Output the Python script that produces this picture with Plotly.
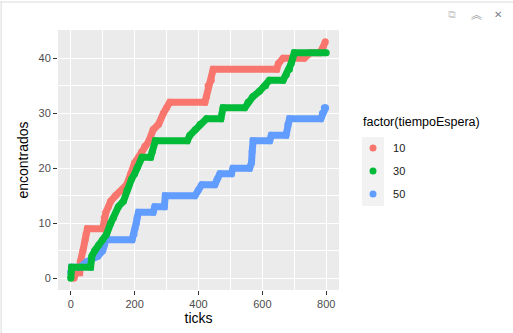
import plotly.graph_objects as go

# ---- data (vertices of each cumulative series) ----
ticks_10 = [10, 15, 28, 30, 38, 45, 48, 52, 100, 105, 110, 118, 125, 140, 160, 175, 188, 200, 212, 222,
            232, 245, 258, 275, 290, 300, 310, 420, 425, 430, 440, 446, 645, 650, 665, 731, 750, 780, 790, 797]
found_10 = [0, 1, 1, 3, 5, 7, 8, 9, 9, 11, 12, 13, 14, 15, 16, 17, 19, 21, 22, 23,
            24, 25, 27, 28, 30, 31, 32, 32, 33, 35, 36, 38, 38, 39, 40, 40, 41, 41, 42, 43]

ticks_30 = [0, 3, 62, 66, 75, 87, 100, 112, 125, 134, 149, 165, 176, 190, 200, 207, 223, 250, 255, 265,
            365, 373, 390, 405, 425, 470, 477, 545, 555, 570, 591, 610, 622, 665, 675, 685, 690, 695, 700, 800]
found_30 = [0, 2, 2, 4, 5, 6, 7, 8, 10, 11, 13, 14, 16, 18, 19, 20, 22, 22, 23, 25,
            25, 26, 27, 28, 29, 29, 31, 31, 32, 33, 34, 35, 36, 36, 37, 38, 39, 40, 41, 41]

ticks_50 = [0, 3, 30, 50, 85, 100, 105, 110, 192, 198, 201, 205, 208, 212, 258, 263, 293, 296, 389, 399,
            410, 451, 458, 467, 503, 508, 560, 566, 568, 571, 623, 628, 674, 680, 685, 783, 788, 794, 798]
found_50 = [1, 2, 2, 3, 4, 5, 6, 7, 7, 8, 9, 10, 11, 12, 12, 13, 13, 15, 15, 16,
            17, 17, 18, 19, 19, 20, 20, 21, 23, 25, 25, 26, 26, 28, 29, 29, 30, 31, 31]

series_names = ["10", "30", "50"]
series_colors = {"10": "#F8766D", "30": "#00BA38", "50": "#619CFF"}
x_tick_vals = [0, 200, 400, 600, 800]
y_tick_vals = [0, 10, 20, 30, 40]

data = {"10": (ticks_10, found_10), "30": (ticks_30, found_30), "50": (ticks_50, found_50)}

fig = go.Figure()
for name in ["10", "50", "30"]:
    xs, ys = data[name]
    fig.add_trace(go.Scatter(
        x=xs, y=ys, mode="lines+markers",
        line=dict(color=series_colors[name], width=7),
        marker=dict(color=series_colors[name], size=7),
        showlegend=False, hoverinfo="skip"))

for i, name in enumerate(series_names):
    fig.add_trace(go.Scatter(
        x=[None], y=[None], mode="markers", name=name,
        marker=dict(color=series_colors[name], size=7),
        legendgroup=name, legendrank=i))

PL, PR, PT, PB = 58.3, 339.0, 30.0, 290.0
W, H = 513, 333
def px(x):
    return (x - PL) / (PR - PL)
def py(y):
    return (PB - y) / (PB - PT)

fig.update_layout(
    width=W, height=H,
    margin=dict(l=PL, r=W - PR, t=PT, b=H - PB),
    paper_bgcolor="white",
    plot_bgcolor="#EBEBEB",
    font=dict(family="Liberation Sans, Arial, sans-serif", color="#000000"),
    showlegend=True,
    legend=dict(
        font=dict(size=11, color="#1A1A1A"),
        x=px(353), y=py(133.5), xanchor="left", yanchor="top",
        bgcolor="rgba(0,0,0,0)", tracegroupgap=4, itemwidth=30,
    ),
    shapes=[
        dict(type="rect", xref="paper", yref="paper",
             x0=px(362), x1=px(384), y0=py(137), y1=py(206),
             fillcolor="#F2F2F2", line=dict(width=0), layer="below"),
        dict(type="line", xref="paper", yref="paper",
             x0=px(0), x1=px(513), y0=py(2), y1=py(2),
             line=dict(color="#DADADA", width=1)),
        dict(type="line", xref="paper", yref="paper",
             x0=px(1.5), x1=px(1.5), y0=py(2), y1=py(333),
             line=dict(color="#DADADA", width=1)),
    ],
    annotations=[
        dict(text="factor(tiempoEspera)", xref="paper", yref="paper",
             x=px(361), y=py(122), xanchor="left", yanchor="middle",
             showarrow=False, font=dict(size=12.5, color="#000000")),
        dict(text="︽", xref="paper", yref="paper", x=px(476), y=py(14),
             xanchor="center", yanchor="middle",
             showarrow=False, font=dict(size=11, color="#9A9A9A",
                                        family="Noto Sans CJK SC")),
        dict(text="✕", xref="paper", yref="paper", x=px(498), y=py(14),
             xanchor="center", yanchor="middle",
             showarrow=False, font=dict(size=10, color="#7A7F88",
                                        family="DejaVu Sans")),
        dict(text="⧉", xref="paper", yref="paper", x=px(452), y=py(14),
             xanchor="center", yanchor="middle",
             showarrow=False, font=dict(size=11, color="#D0D0D0",
                                        family="DejaVu Sans")),
    ],
)

fig.update_xaxes(
    range=[-40, 840], tickvals=x_tick_vals, ticktext=[str(v) for v in x_tick_vals],
    showgrid=True, gridcolor="white", gridwidth=1.2, zeroline=False, showline=False,
    ticks="outside", ticklen=4, tickwidth=1, tickcolor="#333333",
    tickfont=dict(size=11, color="#4D4D4D"), automargin=False,
    minor=dict(dtick=100, tick0=0, showgrid=True, gridcolor="white", gridwidth=0.6, ticks=""),
    title=dict(text="ticks", font=dict(size=14, color="#000000"), standoff=3),
)
fig.update_yaxes(
    range=[-2.15, 45.15], tickvals=y_tick_vals, ticktext=[str(v) for v in y_tick_vals],
    showgrid=True, gridcolor="white", gridwidth=1.2, zeroline=False, showline=False,
    ticks="outside", ticklen=4, tickwidth=1, tickcolor="#333333",
    tickfont=dict(size=11, color="#4D4D4D"), automargin=False,
    minor=dict(dtick=5, tick0=0, showgrid=True, gridcolor="white", gridwidth=0.6, ticks=""),
    title=dict(text="encontrados", font=dict(size=14, color="#000000"), standoff=6),
)

fig.write_html("out.html")
